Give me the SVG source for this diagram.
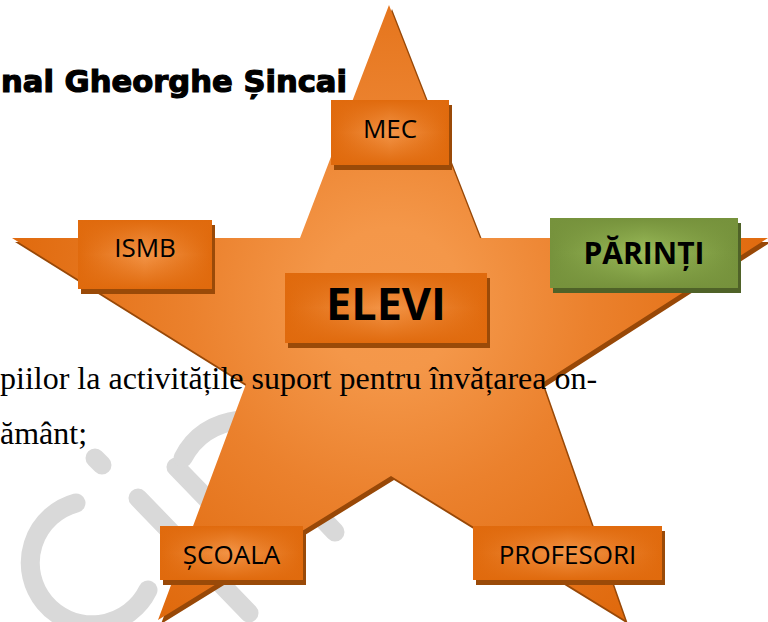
<svg xmlns="http://www.w3.org/2000/svg" width="768" height="622" viewBox="0 0 768 622">
<style>
.lbl{font-family:"Open Sans","Liberation Sans",sans-serif;font-size:26px;fill:#000;text-anchor:middle}
.big{font-weight:bold}
.osh{fill:#9a4a08}
.gsh{fill:#4f6228}
.wm{fill:none;stroke:#d9d9d9;stroke-width:19;stroke-linecap:round}
.body{font-family:"Liberation Serif","Times New Roman",serif;font-size:32px;fill:#000}
.title{font-family:"DejaVu Sans","Liberation Sans",sans-serif;font-weight:bold;font-size:30px;fill:#000;stroke:#000;stroke-width:1.2}
</style>
<defs>
<radialGradient id="starG" gradientUnits="userSpaceOnUse" cx="390" cy="300" r="400">
<stop offset="0" stop-color="#f5994d"/>
<stop offset="0.18" stop-color="#f49749"/>
<stop offset="0.5" stop-color="#eb812d"/>
<stop offset="1" stop-color="#df680b"/>
</radialGradient>
<linearGradient id="oh" x1="0" y1="0" x2="1" y2="0">
<stop offset="0" stop-color="#e06a0d"/>
<stop offset="0.5" stop-color="#f39548"/>
<stop offset="1" stop-color="#e06a0d"/>
</linearGradient>
<linearGradient id="ov" x1="0" y1="0" x2="0" y2="1">
<stop offset="0" stop-color="#e06a0d" stop-opacity="1"/>
<stop offset="0.5" stop-color="#e06a0d" stop-opacity="0"/>
<stop offset="1" stop-color="#e06a0d" stop-opacity="1"/>
</linearGradient>
<linearGradient id="gh" x1="0" y1="0" x2="1" y2="0">
<stop offset="0" stop-color="#76923c"/>
<stop offset="0.5" stop-color="#9cbd5a"/>
<stop offset="1" stop-color="#76923c"/>
</linearGradient>
<linearGradient id="gv" x1="0" y1="0" x2="0" y2="1">
<stop offset="0" stop-color="#76923c" stop-opacity="1"/>
<stop offset="0.5" stop-color="#76923c" stop-opacity="0"/>
<stop offset="1" stop-color="#76923c" stop-opacity="1"/>
</linearGradient>
</defs>
<rect width="768" height="622" fill="#fff"/>

<g id="watermark" class="wm">
<path d="M 76 503 A 62 62 0 1 0 148 590"/>
<path d="M 95 458 L 102 465"/>
<path d="M 138 498 L 249 613"/>
<path d="M 176 467 L 240 533"/>
<path d="M 183 458 Q 200 425 240 420"/>
<path d="M 300 495 L 335 532"/>
</g>

<text class="title" x="1" y="92" textLength="346" lengthAdjust="spacingAndGlyphs">nal Gheorghe Șincai</text>

<g id="star">
<polygon fill="#984807" transform="translate(3,4)" points="389,5 480,238 768,238 542,383 625,620 391,476 158,620 246,384 12,238 300,238"/>
<polygon fill="url(#starG)" points="389,5 480,238 768,238 542,383 625,620 391,476 158,620 246,384 12,238 300,238"/>
</g>

<text class="body" x="0" y="389">piilor la activitățile suport pentru învățarea on-</text>
<text class="body" x="0" y="444">ământ;</text>

<g id="connectors"></g>

<g id="mec">
<rect class="osh" x="334" y="105" width="118" height="65"/>
<rect x="331" y="100" width="118" height="65" fill="url(#oh)"/>
<rect x="331" y="100" width="118" height="65" fill="url(#ov)"/>
<text class="lbl" x="390" y="138">MEC</text>
</g>

<g id="ismb">
<rect class="osh" x="81" y="225" width="134" height="69"/>
<rect x="78" y="220" width="134" height="69" fill="url(#oh)"/>
<rect x="78" y="220" width="134" height="69" fill="url(#ov)"/>
<text class="lbl" x="145" y="257">ISMB</text>
</g>

<g id="parinti">
<rect class="gsh" x="553" y="223" width="188" height="70"/>
<rect x="550" y="218" width="188" height="70" fill="url(#gh)"/>
<rect x="550" y="218" width="188" height="70" fill="url(#gv)"/>
<text class="lbl big" x="644" y="264" style="font-size:30px">PĂRINȚI</text>
</g>

<g id="elevi">
<rect class="osh" x="288" y="278" width="202" height="70"/>
<rect x="285" y="273" width="202" height="70" fill="url(#oh)"/>
<rect x="285" y="273" width="202" height="70" fill="url(#ov)"/>
<text class="lbl big" x="386" y="320" style="font-size:45px">ELEVI</text>
</g>

<g id="scoala">
<rect class="osh" x="163" y="531" width="143" height="54"/>
<rect x="160" y="526" width="143" height="54" fill="url(#oh)"/>
<rect x="160" y="526" width="143" height="54" fill="url(#ov)"/>
<text class="lbl" x="231.5" y="564">ȘCOALA</text>
</g>

<g id="profesori">
<rect class="osh" x="476" y="531" width="189" height="54"/>
<rect x="473" y="526" width="189" height="54" fill="url(#oh)"/>
<rect x="473" y="526" width="189" height="54" fill="url(#ov)"/>
<text class="lbl" x="567.5" y="564">PROFESORI</text>
</g>
</svg>
